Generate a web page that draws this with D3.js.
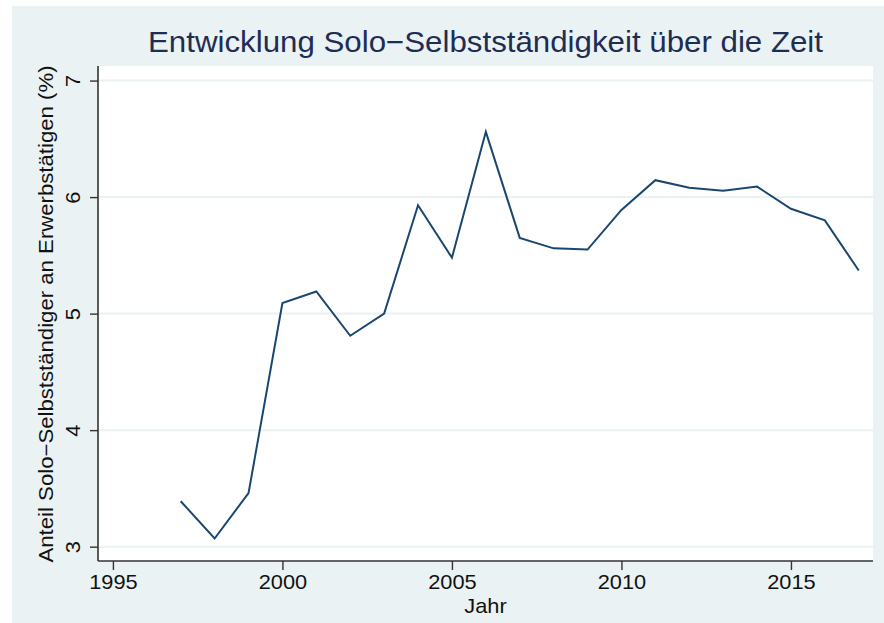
<!DOCTYPE html>
<html>
<head>
<meta charset="utf-8">
<script src="https://cdn.jsdelivr.net/npm/d3@7"></script>
<style>
  body { margin: 0; background: #fff; }
  svg { display: block; font-family: "Liberation Sans", Arial, sans-serif; }
</style>
</head>
<body>
<svg id="chart"></svg>
<script>
// data
const years = [1997, 1998, 1999, 2000, 2001, 2002, 2003, 2004, 2005, 2006, 2007,
               2008, 2009, 2010, 2011, 2012, 2013, 2014, 2015, 2016, 2017];
const shares = [3.39, 3.07, 3.46, 5.09, 5.19, 4.81, 5.00, 5.93, 5.48, 6.56, 5.65,
                5.56, 5.55, 5.89, 6.145, 6.08, 6.055, 6.09, 5.90, 5.80, 5.37];
const xTicks = [1995, 2000, 2005, 2010, 2015];
const yTicks = [3, 4, 5, 6, 7];

const titleText = "Entwicklung Solo\u2212Selbstständigkeit über die Zeit";
const yTitle = "Anteil Solo\u2212Selbstständiger an Erwerbstätigen (%)";
const xTitle = "Jahr";

const width = 884, height = 623;
const plot = { left: 98, right: 873, top: 66, bottom: 561 };
const stretch = 1.09; // the original font runs a bit wider

const svg = d3.select("#chart")
    .attr("width", width)
    .attr("height", height);

// outer background
svg.append("rect")
    .attr("x", 12).attr("y", 6)
    .attr("width", width - 12).attr("height", height - 6)
    .attr("fill", "#eaf2f3");

// plot region
svg.append("rect")
    .attr("x", plot.left).attr("y", plot.top)
    .attr("width", plot.right - plot.left).attr("height", plot.bottom - plot.top)
    .attr("fill", "#ffffff");

const x = d3.scaleLinear()
    .domain([1994.56, 2017.42])
    .range([plot.left, plot.right]);

const y = d3.scaleLinear()
    .domain([2.877, 7.125])
    .range([plot.bottom, plot.top]);

// gridlines
svg.append("g")
    .selectAll("line")
    .data(yTicks)
    .enter()
    .append("line")
    .attr("x1", plot.left).attr("x2", plot.right)
    .attr("y1", d => y(d)).attr("y2", d => y(d))
    .attr("stroke", "#eaf2f3")
    .attr("stroke-width", 2);

// axes
const xAxis = d3.axisBottom(x)
    .tickValues(xTicks)
    .tickFormat(d3.format("d"))
    .tickSize(9)
    .tickPadding(5);

const yAxis = d3.axisLeft(y)
    .tickValues(yTicks)
    .tickFormat(d3.format("d"))
    .tickSize(8)
    .tickPadding(6);

const gx = svg.append("g")
    .attr("transform", `translate(0, ${plot.bottom})`)
    .call(xAxis);
gx.select(".domain").attr("d", `M${plot.left},0H${plot.right}`);

const gy = svg.append("g")
    .attr("transform", `translate(${plot.left}, 0)`)
    .call(yAxis);
gy.select(".domain").attr("d", `M0,${plot.top}V${plot.bottom}`);

[gx, gy].forEach(g => {
    g.select(".domain").attr("stroke", "#333").attr("stroke-width", 1.6);
    g.selectAll(".tick line").attr("stroke", "#333").attr("stroke-width", 1.4);
    g.selectAll(".tick text")
        .attr("fill", "#111")
        .style("font-size", "20px")
        .style("font-family", "'Liberation Sans', Arial, sans-serif");
});

gx.selectAll(".tick text")
    .attr("transform", `scale(${stretch},1)`);

// vertical y tick labels, like the original
gy.selectAll(".tick text")
    .attr("x", null)
    .attr("text-anchor", "middle")
    .attr("transform", `translate(-18,0) rotate(-90) scale(${stretch},1)`)
    .attr("dy", "0em");

// line
const line = d3.line()
    .x((d, i) => x(years[i]))
    .y(d => y(d));

svg.append("path")
    .datum(shares)
    .attr("d", line)
    .attr("fill", "none")
    .attr("stroke", "#1a476f")
    .attr("stroke-width", 2)
    .attr("stroke-linejoin", "miter");

// titles
svg.append("text")
    .attr("x", 485.5).attr("y", 52)
    .attr("text-anchor", "middle")
    .attr("fill", "#1e2d53")
    .attr("textLength", 675)
    .attr("lengthAdjust", "spacingAndGlyphs")
    .style("font-size", "29px")
    .text(titleText);

svg.append("text")
    .attr("transform", `translate(53, 314) rotate(-90)`)
    .attr("text-anchor", "middle")
    .attr("fill", "#111")
    .attr("textLength", 497)
    .attr("lengthAdjust", "spacingAndGlyphs")
    .style("font-size", "20px")
    .text(yTitle);

svg.append("text")
    .attr("transform", `translate(${(plot.left + plot.right) / 2}, 613) scale(${stretch},1)`)
    .attr("text-anchor", "middle")
    .attr("fill", "#111")
    .style("font-size", "20px")
    .text(xTitle);
</script>
</body>
</html>
